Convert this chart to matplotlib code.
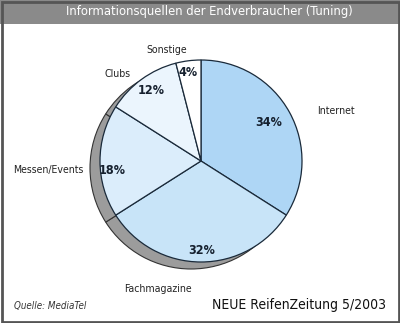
import matplotlib.pyplot as plt
from matplotlib.patches import Rectangle

# data
categories = ['Internet', 'Fachmagazine', 'Messen/Events', 'Clubs', 'Sonstige']
shares = [34, 32, 18, 12, 4]
colors = ['#aed6f5', '#c8e4f8', '#dbedfb', '#ebf5fd', '#ffffff']

plt.rcParams['font.family'] = ['DejaVu Sans']
plt.rcParams['font.stretch'] = 'condensed'

fig = plt.figure(figsize=(4.0, 3.23), dpi=100)
ax = fig.add_axes([0, 0, 1, 1])


def Y(py):
    # pixel row from the top -> data y
    return 323 - py


cx, cy, r = 201, Y(161), 101

# shadow
ax.pie(shares, startangle=90, counterclock=False, radius=r, center=(cx - 10, cy - 7),
       colors=['#9c9c9c'] * len(shares),
       wedgeprops=dict(edgecolor='#333333', linewidth=0.8), frame=True)
# main pie
ax.pie(shares, startangle=90, counterclock=False, radius=r, center=(cx, cy),
       colors=colors, wedgeprops=dict(edgecolor='#1a2a3a', linewidth=0.9), frame=True)
ax.set_xlim(0, 400)
ax.set_ylim(0, 323)
ax.set_aspect('auto')
ax.axis('off')

label_pos = [(317, 111, 'left'), (158, 289, 'center'), (83, 170, 'right'),
             (118, 74, 'center'), (167, 50, 'center')]
pct_pos = [(269, 122), (202, 251), (112, 171), (151, 90), (188, 72)]
for name, val, (lx, ly, ha), (px, py) in zip(categories, shares, label_pos, pct_pos):
    ax.text(lx, Y(ly), name, ha=ha, va='center', fontsize=7.6, color='#222222')
    ax.text(px, Y(py), f'{val}%', ha='center', va='center', fontsize=9,
            fontweight='bold', color='#15202e')

ax.add_patch(Rectangle((0, Y(24)), 400, 24, facecolor='#8a8a8a', edgecolor='none'))
ax.text(209, Y(12), 'Informationsquellen der Endverbraucher (Tuning)', ha='center',
        va='center', fontsize=9.3, color='white')

ax.add_patch(Rectangle((1.5, 1.5), 397, 320, facecolor='none', edgecolor='#555555',
                       linewidth=2))

ax.text(14, Y(306), 'Quelle: MediaTel', ha='left', va='center', fontsize=7,
        style='italic', color='#333333')
ax.text(386, Y(305), 'NEUE ReifenZeitung 5/2003', ha='right', va='center',
        fontsize=10, color='#111111')

fig.savefig('out.png', dpi=100)
